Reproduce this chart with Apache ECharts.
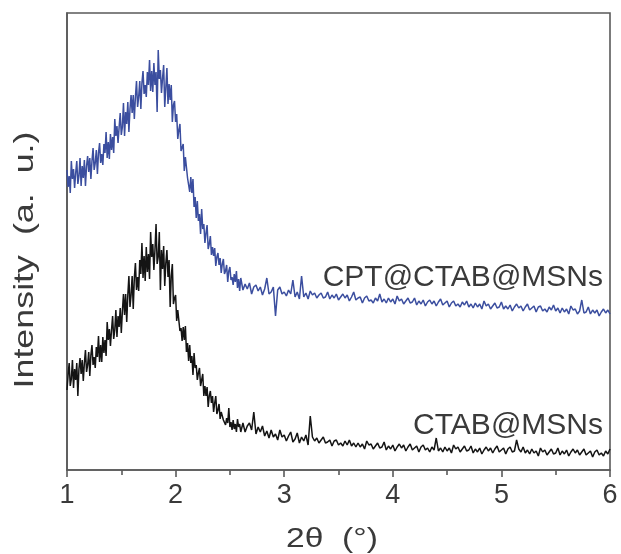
<!DOCTYPE html>
<html><head><meta charset="utf-8">
<script src="https://cdn.jsdelivr.net/npm/echarts@6/dist/echarts.min.js"></script>
<style>html,body{margin:0;padding:0;background:#fff}#c{width:621px;height:554px}</style>
</head><body><div id="c"></div>
<script>
// Scan grid (2θ, degrees): fine step over the peak, coarser over the tail
const peakStart = 1.00, peakStep = 0.01;
const tailStart = 2.62, tailStep = 0.02;

// CPT@CTAB@MSNs intensity (a.u., offset trace)
const cptPeak = [292,275,286,269,301,283,293,274,289,301,278,286,304,276,296,284,302,276,296,306,
290,304,283,301,314,292,299,312,288,309,319,299,308,297,318,309,330,304,320,303,
328,312,325,309,343,326,336,319,335,349,327,335,359,326,350,338,360,330,353,367,
349,367,343,365,381,355,365,381,353,379,391,368,377,365,390,377,402,371,391,370,
399,377,390,350,412,383,392,369,384,397,355,374,394,358,378,362,377,340,357,361,
340,348,323,332,338,311,312,318,291,305,307,284,286,270,285,269,283,255,265,244,
261,241,248,228,253,233,238,219,229,237,213,218,226,207,215,206,214,196,205,209,
197,204,189,198,203,188,191,197,180,191,195,182,185,177,188,180,191,174,183,171,184];
const cptTail = [172,178,173,179,168,175,177,171,175,167,173,184,168,170,175,146,172,175,168,170,
166,172,168,182,165,170,163,186,165,169,163,171,167,169,164,167,169,164,165,170,
163,167,164,168,162,165,168,164,167,161,165,170,162,164,165,159,164,166,161,162,
159,164,161,168,160,163,159,164,160,163,158,166,161,163,158,161,164,159,160,164,
157,161,158,162,156,160,162,158,161,156,160,163,157,159,161,155,159,161,156,158,
155,160,157,161,155,158,154,159,155,158,153,161,156,158,153,156,159,154,155,160,
153,156,153,157,151,155,158,154,156,151,155,158,152,154,156,150,155,156,151,153,
150,155,152,157,151,154,149,154,150,153,148,156,152,153,148,151,162,149,150,155,
148,152,149,152,146,150,153,149,152,148];

// CTAB@MSNs intensity (a.u.)
const ctabPeak = [72,87,99,76,83,102,74,93,82,99,66,93,104,88,102,81,99,112,90,97,
110,86,107,117,97,105,94,115,105,126,100,117,100,125,109,122,106,140,122,133,
116,132,146,123,132,152,125,146,135,154,129,151,168,147,168,140,167,186,155,167,
186,153,184,199,172,185,171,202,188,219,184,206,181,215,190,208,183,230,205,218,
192,212,238,198,205,230,172,212,193,216,176,199,212,185,202,155,186,198,158,164,
167,141,152,154,131,134,121,135,122,136,110,119,101,117,99,106,87,109,94,97,
82,89,94,76,78,88,66,76,66,75,55,66,71,59,66,50,59,66,48,52,
58,43,50,52,42,43,37,44,39,54,35,40,32,42,33,38,30,43,35,38,30];
const ctabTail = [39,30,36,39,32,50,28,35,30,36,26,31,24,32,25,28,22,32,25,27,
21,26,30,20,23,29,19,25,21,27,17,46,25,21,24,19,22,25,19,20,
22,16,21,22,17,19,16,21,17,22,16,19,15,19,15,18,13,21,17,18,
13,16,19,14,15,20,12,16,13,17,11,15,18,14,17,11,15,18,12,14,
16,10,15,17,12,14,10,15,12,24,11,14,10,15,11,14,9,17,13,15,
10,13,16,11,12,16,9,13,10,14,8,12,15,11,14,9,13,16,10,12,
14,8,13,15,10,11,22,13,10,15,9,12,8,13,9,11,6,14,10,12,
7,10,13,8,9,14,7,11,8,12,6,10,13,9,12,7,10,13,7,9,
11,5,10,12,7,9,6,11,8,13];

const xTicks = [1,2,3,4,5,6];
const seriesNames = ['CPT@CTAB@MSNs','CTAB@MSNs'];
const xTitle = '2θ  (°)';
const yTitle = 'Intensity  (a.  u.)';

const grid = (start, step, n) => Array.from({length: n}, (_, i) => +(start + i * step).toFixed(2));
const theta = grid(peakStart, peakStep, cptPeak.length).concat(grid(tailStart, tailStep, cptTail.length));
const cpt = cptPeak.concat(cptTail);
const ctab = ctabPeak.concat(ctabTail);
const pair = (xs, ys) => xs.map((x, i) => [x, ys[i]]);

const font = '"Liberation Sans", Arial, sans-serif';
const txt = '#3a3a3a';
const ax = '#5a5a5a';
const chart = echarts.init(document.getElementById('c'));
chart.setOption({
  animation: false,
  backgroundColor: '#fff',
  grid: {left: 67, right: 11, top: 13, bottom: 84, show: true, borderColor: ax, borderWidth: 1.6},
  xAxis: {
    type: 'value', min: 1, max: 6, interval: 1,
    axisLine: {show: true, onZero: false, lineStyle: {color: ax, width: 1.6}},
    axisTick: {show: true, inside: false, length: 7, lineStyle: {color: ax, width: 1.6}},
    minorTick: {show: true, splitNumber: 2, length: 5, lineStyle: {color: ax, width: 1.6}},
    axisLabel: {fontFamily: font, fontSize: 27, color: txt, margin: 12,
      formatter: v => xTicks.includes(v) ? String(v) : ''},
    splitLine: {show: false}
  },
  yAxis: {
    type: 'value', min: -8, max: 449,
    axisLine: {show: true, onZero: false, lineStyle: {color: ax, width: 1.6}},
    axisTick: {show: false}, axisLabel: {show: false}, splitLine: {show: false}
  },
  series: [
    {name: seriesNames[0], type: 'line', data: pair(theta, cpt), showSymbol: false, symbol: 'none',
     lineStyle: {color: '#3b4e9f', width: 1.5}},
    {name: seriesNames[1], type: 'line', data: pair(theta, ctab), showSymbol: false, symbol: 'none',
     lineStyle: {color: '#141414', width: 1.5}}
  ],
  graphic: [
    {type: 'text', x: 25, y: 260, rotation: Math.PI / 2, scaleX: 1.28,
     style: {text: yTitle, font: '28px ' + font, fill: txt, align: 'center', verticalAlign: 'middle'}},
    {type: 'text', x: 332, y: 539, scaleX: 1.2,
     style: {text: xTitle, font: '28px ' + font, fill: txt, align: 'center', verticalAlign: 'middle'}},
    {type: 'text', x: 603, y: 278, style: {text: seriesNames[0], font: '30px ' + font, fill: txt, align: 'right', verticalAlign: 'middle'}},
    {type: 'text', x: 603, y: 426, style: {text: seriesNames[1], font: '30px ' + font, fill: txt, align: 'right', verticalAlign: 'middle'}}
  ]
});
</script></body></html>
